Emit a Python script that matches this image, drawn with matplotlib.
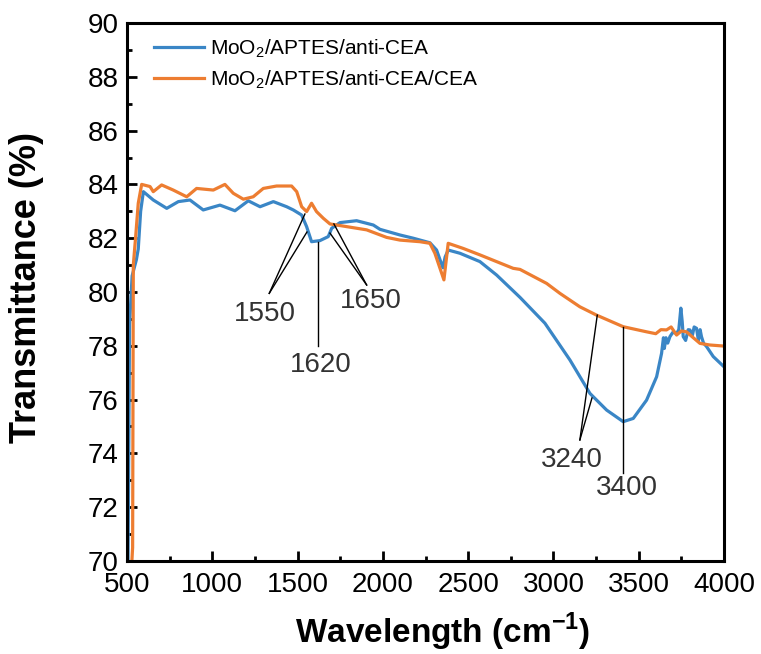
import numpy as np
import matplotlib
matplotlib.use("Agg")
import matplotlib.pyplot as plt
from matplotlib.ticker import MultipleLocator

plt.rcParams['font.family'] = ['Liberation Sans', 'DejaVu Sans']
plt.rcParams['mathtext.fontset'] = 'custom'
plt.rcParams['mathtext.rm'] = 'Liberation Sans'
plt.rcParams['mathtext.bf'] = 'Liberation Sans:bold'

# spectra (wavenumber, transmittance %)
blue_x = [505, 515, 530, 555, 566, 580, 596, 654, 733, 801, 869, 947, 1045, 1133,
          1211, 1280, 1358, 1436, 1475, 1524, 1553, 1582, 1631, 1680, 1700, 1749,
          1846, 1944, 1983, 2100, 2178, 2276, 2315, 2335, 2352, 2365, 2383, 2452,
          2569, 2667, 2804, 2950, 3097, 3214, 3312, 3409, 3468, 3546, 3605, 3634,
          3645, 3650, 3660, 3670, 3683, 3700, 3722, 3735, 3747, 3755, 3761, 3775,
          3790, 3800, 3815, 3825, 3839, 3850, 3860, 3868, 3880, 3898, 3937, 4000]
blue_y = [69.0, 78.8, 80.6, 81.2, 81.6, 83.0, 83.73, 83.42, 83.11, 83.36, 83.42, 83.05,
          83.23, 83.02, 83.39, 83.17, 83.36, 83.17, 83.05, 82.86, 82.43, 81.87, 81.91,
          82.06, 82.37, 82.58, 82.65, 82.49, 82.33, 82.12, 82.0, 81.83, 81.56, 81.2,
          80.9, 81.3, 81.56, 81.44, 81.13, 80.63, 79.8, 78.84, 77.47, 76.23, 75.61,
          75.18, 75.3, 75.98, 76.85, 77.72, 78.3, 77.9, 78.3, 78.1, 78.34, 78.5, 78.46,
          78.6, 79.4, 78.9, 78.34, 78.2, 78.6, 78.59, 78.4, 78.7, 78.65, 78.2, 78.6,
          78.34, 78.1, 77.97, 77.6, 77.22]

orange_x = [520, 533, 537, 550, 566, 586, 635, 654, 703, 771, 850, 908, 1006, 1074,
            1123, 1182, 1240, 1299, 1377, 1465, 1495, 1524, 1553, 1582, 1611, 1651,
            1690, 1788, 1905, 2022, 2100, 2217, 2276, 2305, 2335, 2358, 2383, 2471,
            2569, 2764, 2804, 2921, 2960, 3038, 3155, 3253, 3409, 3546, 3600, 3630,
            3663, 3690, 3722, 3750, 3780, 3820, 3859, 3917, 4000]
orange_y = [69.0, 70.5, 81.0, 82.0, 83.3, 84.0, 83.92, 83.73, 83.98, 83.79, 83.54,
            83.85, 83.79, 84.0, 83.67, 83.45, 83.54, 83.85, 83.94, 83.94, 83.73, 83.17,
            82.99, 83.3, 82.99, 82.74, 82.53, 82.43, 82.31, 82.03, 81.93, 81.87, 81.81,
            81.44, 80.88, 80.45, 81.81, 81.62, 81.38, 80.88, 80.84, 80.45, 80.32, 79.95,
            79.45, 79.14, 78.71, 78.52, 78.45, 78.6, 78.59, 78.7, 78.40, 78.55, 78.52,
            78.3, 78.09, 78.03, 77.99]

labels = ['MoO$_2$/APTES/anti-CEA', 'MoO$_2$/APTES/anti-CEA/CEA']
colors = ['#3a86c6', '#ed7d31']

fig = plt.figure(figsize=(7.61, 6.54), dpi=100)
ax = fig.add_axes([127/761, 1 - 561/654, 597/761, 538/654])

ax.plot(blue_x, blue_y, color=colors[0], lw=2.3, label=labels[0])
ax.plot(orange_x, orange_y, color=colors[1], lw=2.3, label=labels[1])

ax.set_xlim(500, 4000)
ax.set_ylim(70, 90)
ax.xaxis.set_major_locator(MultipleLocator(500))
ax.xaxis.set_minor_locator(MultipleLocator(250))
ax.yaxis.set_major_locator(MultipleLocator(2))
ax.yaxis.set_minor_locator(MultipleLocator(1))
ax.tick_params(which='major', direction='in', length=7, width=2, labelsize=20, pad=6)
ax.tick_params(axis='x', which='major', pad=8)
ax.tick_params(which='minor', direction='in', length=3.5, width=2)
for s in ax.spines.values():
    s.set_linewidth(2.2)

ax.set_xlabel(r'Wavelength (cm$^{\mathbf{-1}}$)', fontsize=24, fontweight='bold')
ax.set_ylabel('Transmittance (%)', fontsize=26, fontweight='bold')
ax.xaxis.set_label_coords(0.528, -0.132)
ax.xaxis.label.set_va('center')
ax.yaxis.set_label_coords(-0.168, 0.509)
ax.yaxis.label.set_va('center')

leg = ax.legend(loc='upper left', bbox_to_anchor=(0.02, 1.0), frameon=False, fontsize=15,
                handlelength=2.4, handletextpad=0.3, labelspacing=0.4, borderaxespad=0.3)

# annotations
ann_col = '#333333'
ax.plot([1334, 1543], [79.95, 82.9], color='k', lw=1)
ax.plot([1334, 1555], [79.95, 82.23], color='k', lw=1)
ax.text(1309, 79.18, '1550', fontsize=20, ha='center', va='center', color=ann_col)

ax.plot([1621, 1621], [81.87, 78.0], color='k', lw=1)
ax.text(1637, 77.29, '1620', fontsize=20, ha='center', va='center', color=ann_col)

ax.plot([1905, 1690], [80.26, 82.19], color='k', lw=1)
ax.plot([1905, 1713], [80.26, 82.53], color='k', lw=1)
ax.text(1930, 79.67, '1650', fontsize=20, ha='center', va='center', color=ann_col)

ax.plot([3155, 3257], [74.5, 79.14], color='k', lw=1)
ax.plot([3155, 3226], [74.5, 76.06], color='k', lw=1)
ax.text(3108, 73.75, '3240', fontsize=20, ha='center', va='center', color=ann_col)

ax.plot([3409, 3409], [78.71, 73.27], color='k', lw=1)
ax.text(3431, 72.71, '3400', fontsize=20, ha='center', va='center', color=ann_col)

fig.savefig('out.png', dpi=100)
